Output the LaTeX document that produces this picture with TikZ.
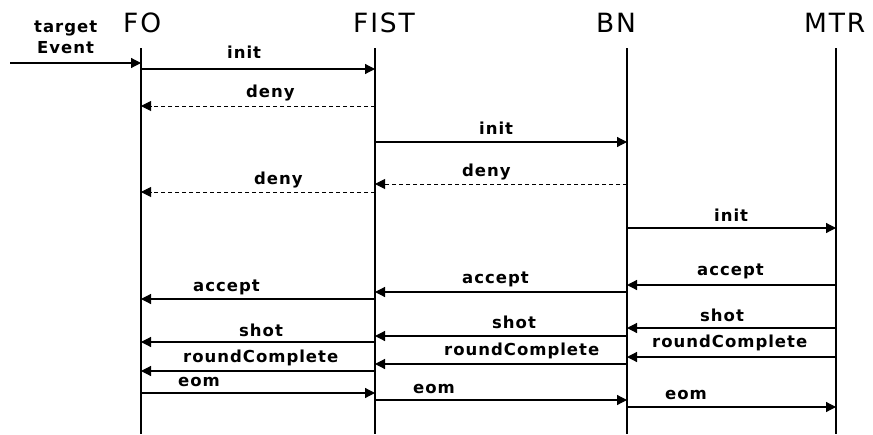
\documentclass[tikz,border=0pt]{standalone}
\usepackage{fontspec}
\setmainfont{DejaVu Sans}
\newfontfamily\lblfont[LetterSpace=6, BoldFont={DejaVu Sans Bold}]{DejaVu Sans}
\newfontfamily\hdfont[LetterSpace=7]{DejaVu Sans}
\usetikzlibrary{arrows.meta}
\begin{document}
\begin{tikzpicture}[x=1pt,y=-1pt,
  lbl/.style={font=\lblfont\bfseries\fontsize{16.5}{18}\selectfont, inner sep=0, anchor=base west},
  hd/.style={font=\hdfont\fontsize{26.5}{28}\selectfont, inner sep=0, anchor=base west},
  life/.style={line width=1.4pt},
  msg/.style={line width=1.2pt, -{Triangle[length=10pt,width=10pt]}},
  ret/.style={msg, line width=1pt, dash pattern=on 4pt off 3pt}]
\useasboundingbox (0,0) rectangle (873,434);
% headers
\node[hd] (hFO) at (123,32) {FO};
\node[hd] (hFIST) at (353,32) {FIST};
\node[hd] (hBN) at (596,32) {BN};
\node[hd] (hMTR) at (804,32) {MTR};
% lifelines
\coordinate (fo) at (141,48);   \coordinate (fob) at (141,434);
\coordinate (fist) at (375,48); \coordinate (fistb) at (375,434);
\coordinate (bn) at (627,48);   \coordinate (bnb) at (627,434);
\coordinate (mtr) at (836,48);  \coordinate (mtrb) at (836,434);
\draw[life] (fo) -- (fob);
\draw[life] (fist) -- (fistb);
\draw[life] (bn) -- (bnb);
\draw[life] (mtr) -- (mtrb);
% target event
\node[lbl] (tgt) at (34,32) {target};
\node[lbl] (evt) at (37,53) {Event};
\coordinate (src) at (10,63);
\draw[msg] (src) -- (fo |- src);
% messages
\draw[msg] (fo |- 0,69) -- (fist |- 0,69);
\node[lbl] (l1) at (227,58) {init};
\draw[ret] (fist |- 0,106) -- (fo |- 0,106);
\node[lbl] (l2) at (246,97) {deny};
\draw[msg] (fist |- 0,142) -- (bn |- 0,142);
\node[lbl] (l3) at (479,134) {init};
\draw[ret] (bn |- 0,184) -- (fist |- 0,184);
\node[lbl] (l4) at (462,176) {deny};
\draw[ret] (fist |- 0,192) -- (fo |- 0,192);
\node[lbl] (l5) at (254,184) {deny};
\draw[msg] (bn |- 0,228) -- (mtr |- 0,228);
\node[lbl] (l6) at (714,221) {init};
\draw[msg] (mtr |- 0,285) -- (bn |- 0,285);
\node[lbl] (l7) at (697,275) {accept};
\draw[msg] (bn |- 0,292) -- (fist |- 0,292);
\node[lbl] (l8) at (462,283) {accept};
\draw[msg] (fist |- 0,299) -- (fo |- 0,299);
\node[lbl] (l9) at (193,291) {accept};
\draw[msg] (mtr |- 0,328) -- (bn |- 0,328);
\node[lbl] (l10) at (700,321) {shot};
\draw[msg] (bn |- 0,336) -- (fist |- 0,336);
\node[lbl] (l11) at (492,328) {shot};
\draw[msg] (fist |- 0,342) -- (fo |- 0,342);
\node[lbl] (l12) at (239,336) {shot};
\draw[msg] (mtr |- 0,357) -- (bn |- 0,357);
\node[lbl] (l13) at (652,347) {roundComplete};
\draw[msg] (bn |- 0,364) -- (fist |- 0,364);
\node[lbl] (l14) at (444,355) {roundComplete};
\draw[msg] (fist |- 0,371) -- (fo |- 0,371);
\node[lbl] (l15) at (183,362) {roundComplete};
\draw[msg] (fo |- 0,393) -- (fist |- 0,393);
\node[lbl] (l16) at (178,386) {eom};
\draw[msg] (fist |- 0,400) -- (bn |- 0,400);
\node[lbl] (l17) at (413,393) {eom};
\draw[msg] (bn |- 0,407) -- (mtr |- 0,407);
\node[lbl] (l18) at (665,399) {eom};
\end{tikzpicture}
\end{document}
